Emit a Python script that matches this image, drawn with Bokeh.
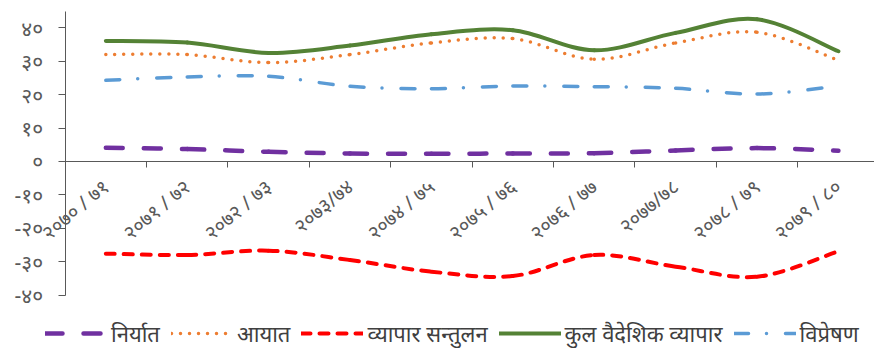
from bokeh.plotting import figure
from bokeh.models import ColumnDataSource, FixedTicker, Legend, LegendItem, Range1d, LinearAxis
from bokeh.embed import file_html
from bokeh.resources import INLINE

# ---- data ----
years = ["२०७० / ७१", "२०७१ / ७२", "२०७२ / ७३", "२०७३/७४", "२०७४ / ७५",
         "२०७५ / ७६", "२०७६ / ७७", "२०७७/७८", "२०७८ / ७९", "२०७९ / ८०"]
exports = [4.1, 3.7, 2.9, 2.4, 2.3, 2.4, 2.5, 3.3, 4.0, 3.2]
imports = [32.0, 32.0, 29.6, 32.0, 35.5, 36.8, 30.6, 35.5, 38.7, 30.3]
balance = [-27.6, -28.0, -26.7, -29.5, -33.0, -34.3, -28.0, -31.5, -34.5, -26.9]
total_trade = [36.1, 35.6, 32.5, 34.7, 38.1, 39.3, 33.3, 38.5, 42.6, 33.0]
remittance = [24.3, 25.3, 25.5, 22.5, 21.8, 22.6, 22.4, 21.9, 20.2, 22.6]
y_ticks = [-40, -30, -20, -10, 0, 10, 20, 30, 40]
y_tick_labels = ["-४०", "-३०", "-२०", "-१०", "०", "१०", "२०", "३०", "४०"]
series_names = ["निर्यात", "आयात", "व्यापार सन्तुलन", "कुल वैदेशिक व्यापार", "विप्रेषण"]

FONT = "Noto Sans"
AXIS_COL = "#595959"

# the frame fills the whole canvas; axes are pinned inside it
p = figure(width=874, height=348, x_range=Range1d(-1.294, 9.443), y_range=Range1d(-56.0, 48.2),
           output_backend="svg", toolbar_location=None,
           x_axis_location=None, y_axis_location=None,
           min_border_left=0, min_border_right=0, min_border_top=0, min_border_bottom=0)
p.outline_line_color = None
p.grid.visible = False
p.background_fill_color = "white"

xa = LinearAxis(fixed_location=0, bounds=(-0.5, 9.443))
xa.ticker = FixedTicker(ticks=list(range(len(years))),
                        minor_ticks=[k + 0.5 for k in range(-1, len(years))])
xa.major_label_overrides = {i: years[i] for i in range(len(years))}
xa.major_label_orientation = 0.70
xa.major_tick_out = 0
xa.major_tick_in = 0
xa.minor_tick_out = 6
xa.minor_tick_in = 0
xa.minor_tick_line_color = AXIS_COL
xa.axis_line_color = AXIS_COL
xa.major_label_text_font = FONT
xa.major_label_text_font_size = "20px"
xa.major_label_text_color = AXIS_COL
xa.major_label_standoff = 16
p.add_layout(xa, "below")

ya = LinearAxis(fixed_location=-0.5, bounds=(-40, 44.9))
ya.ticker = FixedTicker(ticks=y_ticks, minor_ticks=[])
ya.major_label_overrides = {t: l for t, l in zip(y_ticks, y_tick_labels)}
ya.major_tick_out = 7
ya.major_tick_in = 0
ya.minor_tick_out = 0
ya.axis_line_color = AXIS_COL
ya.major_tick_line_color = AXIS_COL
ya.major_label_text_font = FONT
ya.major_label_text_font_size = "21px"
ya.major_label_text_color = AXIS_COL
ya.major_label_standoff = 15
p.add_layout(ya, "left")


def bezier_source(ys):
    xs = list(range(len(ys)))
    n = len(ys)
    d = dict(x0=[], y0=[], x1=[], y1=[], cx0=[], cy0=[], cx1=[], cy1=[])
    for i in range(n - 1):
        a = max(i - 1, 0)
        b = min(i + 2, n - 1)
        d["x0"].append(xs[i]); d["y0"].append(ys[i])
        d["x1"].append(xs[i + 1]); d["y1"].append(ys[i + 1])
        d["cx0"].append(xs[i] + (xs[i + 1] - xs[a]) / 6)
        d["cy0"].append(ys[i] + (ys[i + 1] - ys[a]) / 6)
        d["cx1"].append(xs[i + 1] - (xs[b] - xs[i]) / 6)
        d["cy1"].append(ys[i + 1] - (ys[b] - ys[i]) / 6)
    return ColumnDataSource(d)


styles = [
    dict(line_color="#7030A0", line_width=4.5, line_dash="17 21", line_cap="round"),
    dict(line_color="#ED7D31", line_width=3.5, line_dash="0 9", line_cap="round"),
    dict(line_color="#FF0000", line_width=4, line_dash="9 9", line_cap="round"),
    dict(line_color="#548235", line_width=4, line_cap="round"),
    dict(line_color="#5B9BD5", line_width=3.5, line_dash="14 18 0 19", line_cap="round"),
]
series = [exports, imports, balance, total_trade, remittance]

items = []
for name, ys, st in zip(series_names, series, styles):
    r = p.bezier(x0="x0", y0="y0", x1="x1", y1="y1", cx0="cx0", cy0="cy0", cx1="cx1", cy1="cy1",
                 source=bezier_source(ys), **st)
    items.append(LegendItem(label=name, renderers=[r]))

legend = Legend(items=items, orientation="horizontal", location=(45, 0),
                glyph_width=62, glyph_height=24, label_height=24, label_standoff=4,
                spacing=11, padding=0, margin=0, border_line_color=None,
                background_fill_alpha=0,
                label_text_font=FONT, label_text_font_size="22px", label_text_color="#404040")
p.add_layout(legend, "center")

open("out.html", "w").write(file_html(p, INLINE))
